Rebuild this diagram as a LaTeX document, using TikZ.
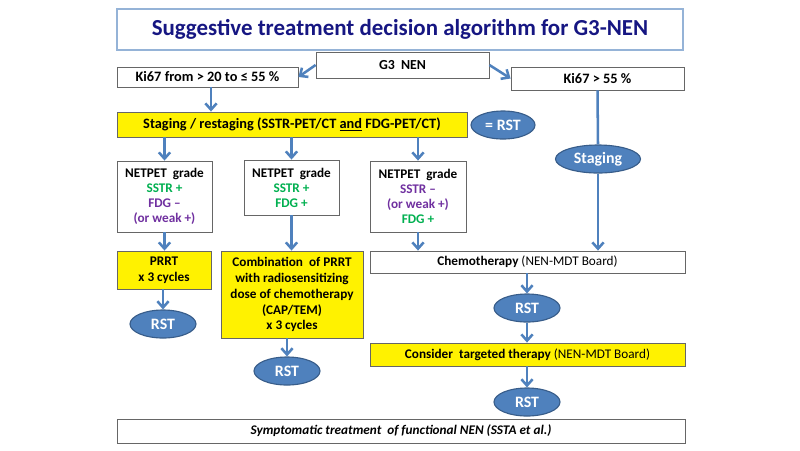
\documentclass[tikz,border=0pt]{standalone}
\usepackage{fontspec}
\setmainfont{Carlito}
\usepackage{xcolor}
\usetikzlibrary{shapes.geometric,arrows.meta}
\definecolor{arrowblue}{RGB}{79,129,189}
\definecolor{ellborder}{RGB}{56,93,138}
\definecolor{titleline}{RGB}{149,179,215}
\definecolor{titletext}{RGB}{22,22,130}
\definecolor{posgreen}{RGB}{0,176,80}
\definecolor{negpurple}{RGB}{112,48,160}
\tikzset{
    plain-box/.style = {draw=black!60, fill=white, line width=0.6pt, rectangle, inner sep=0pt, align=center, font=\fontsize{9.4}{10.7}\selectfont\bfseries},
    yellow-box/.style = {plain-box, fill=yellow},
    rst-ellipse/.style = {draw=ellborder, fill=arrowblue, line width=0.8pt, ellipse, inner sep=0pt, text=white, font=\fontsize{11.3}{13}\selectfont\bfseries},
    flow-arrow/.style = {draw=arrowblue, line width=1.8pt, -{Straight Barb[length=4.5pt,width=8pt]}},
    flow-line/.style = {draw=arrowblue, line width=1.8pt},
}

\begin{document}
\begin{tikzpicture}[x=0.025cm,y=-0.025cm]
\useasboundingbox (0,0) rectangle (800,450);
% title
\node [draw=titleline, line width=0.8pt, minimum width=566*0.025cm, minimum height=41*0.025cm, text=titletext, font=\fontsize{16.3}{19}\selectfont\bfseries] (title) at (400,29.5) {Suggestive treatment decision algorithm for G3-NEN};
% top level
\node [plain-box, minimum width=173*0.025cm, minimum height=26*0.025cm, font=\fontsize{9.8}{11}\selectfont\bfseries] (g3) at (402.5,65) {G3\ \ NEN};
\node [plain-box, minimum width=181*0.025cm, minimum height=20*0.025cm, font=\fontsize{10.2}{11}\selectfont\bfseries] (kiA) at (207.5,77) {Ki67 from > 20 to ≤ 55 \%};
\node [plain-box, minimum width=173*0.025cm, minimum height=23*0.025cm, font=\fontsize{10.2}{11}\selectfont\bfseries] (kiB) at (597.5,78.5) {Ki67 > 55 \%};
\node [yellow-box, minimum width=350*0.025cm, minimum height=25*0.025cm, font=\fontsize{10.2}{12}\selectfont\bfseries] (stag) at (292,124.5) {Staging / restaging (SSTR-PET/CT \underline{and} FDG-PET/CT)};
\node [rst-ellipse, minimum width=64*0.025cm, minimum height=28*0.025cm] (rstEq) at (503,125) {= RST};
\node [rst-ellipse, minimum width=85*0.025cm, minimum height=28*0.025cm] (stgEll) at (598,159) {Staging};
% NETPET grades
\node [plain-box, minimum width=95*0.025cm, minimum height=71*0.025cm] (pet1) at (164.5,196.5) {NETPET\ \ grade\\ \textcolor{posgreen}{SSTR +}\\ \textcolor{negpurple}{FDG --}\\ \textcolor{negpurple}{(or weak +)}};
\node [plain-box, minimum width=95*0.025cm, minimum height=55*0.025cm] (pet2) at (291.5,187.5) {NETPET\ \ grade\\ \textcolor{posgreen}{SSTR +}\\ \textcolor{posgreen}{FDG +}};
\node [plain-box, minimum width=96*0.025cm, minimum height=71*0.025cm] (pet3) at (418,196.5) {NETPET\ \ grade\\ \textcolor{negpurple}{SSTR --}\\ \textcolor{negpurple}{(or weak +)}\\ \textcolor{posgreen}{FDG +}};
% treatments
\node [yellow-box, minimum width=94*0.025cm, minimum height=38*0.025cm, font=\fontsize{9.4}{11.3}\selectfont\bfseries] (prrt) at (164,270) {PRRT\\ x 3 cycles};
\node [yellow-box, minimum width=142*0.025cm, minimum height=87*0.025cm, font=\fontsize{9.4}{11.3}\selectfont\bfseries] (comb) at (292,294.5) {Combination\ \ of PRRT\\ with radiosensitizing\\ dose of chemotherapy\\ (CAP/TEM)\\ x 3 cycles};
\node [plain-box, minimum width=315*0.025cm, minimum height=22*0.025cm] (chemo) at (527.5,262) {Chemotherapy \mdseries(NEN-MDT Board)};
\node [rst-ellipse, minimum width=66*0.025cm, minimum height=28*0.025cm] (rst1) at (163,324) {RST};
\node [rst-ellipse, minimum width=66*0.025cm, minimum height=28*0.025cm] (rst2) at (287,371) {RST};
\node [rst-ellipse, minimum width=66*0.025cm, minimum height=28*0.025cm] (rst3) at (527,308) {RST};
\node [yellow-box, minimum width=315*0.025cm, minimum height=23*0.025cm] (target) at (527.5,354.5) {Consider\ \ targeted therapy \mdseries(NEN-MDT Board)};
\node [rst-ellipse, minimum width=66*0.025cm, minimum height=28*0.025cm] (rst4) at (527,402) {RST};
\node [plain-box, minimum width=568*0.025cm, minimum height=24*0.025cm, font=\fontsize{9.4}{10.7}\selectfont\bfseries\itshape] (symp) at (401,431) {Symptomatic treatment\ \ of functional NEN (SSTA et al.)};
% connectors
\draw [flow-arrow] (g3.west) -- (kiA.east);
\draw [flow-arrow] (g3.east) -- (kiB.west);
\draw [flow-arrow] ([xshift=3.5*0.025cm]kiA.south) -- ([xshift=3.5*0.025cm]kiA.south |- stag.north);
\draw [flow-line] (kiB.south) -- (stgEll.north);
\draw [flow-arrow] (stgEll.south) -- (stgEll.south |- chemo.north);
\foreach \p in {pet1,pet2,pet3}
    \draw [flow-arrow] (\p.north |- stag.south) -- (\p.north);
\draw [flow-arrow] (pet1.south) -- (pet1.south |- prrt.north);
\draw [flow-arrow] (pet2.south) -- (pet2.south |- comb.north);
\draw [flow-arrow] (pet3.south) -- (pet3.south |- chemo.north);
\draw [flow-arrow] (rst1.north |- prrt.south) -- (rst1.north);
\draw [flow-arrow] (rst2.north |- comb.south) -- (rst2.north);
\draw [flow-arrow] (rst3.north |- chemo.south) -- (rst3.north);
\draw [flow-arrow] (rst3.south) -- (rst3.south |- target.north);
\draw [flow-arrow] (rst4.north |- target.south) -- (rst4.north);
\end{tikzpicture}
\end{document}
